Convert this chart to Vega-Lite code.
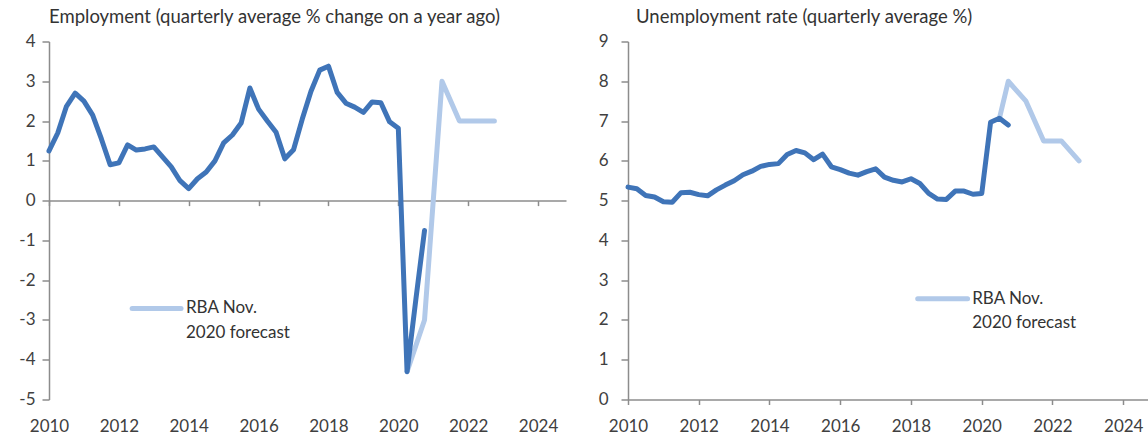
{
  "$schema": "https://vega.github.io/schema/vega-lite/v6.json",
  "background": "white",
  "padding": {"left": 9, "top": 7.5, "right": 0, "bottom": 0},
  "spacing": 22,
  "config": {
    "view": {"stroke": null},
    "font": "Lato",
    "axis": {
      "grid": false,
      "title": null,
      "domainColor": "#8c8c8c",
      "tickColor": "#8c8c8c",
      "domainWidth": 1.5,
      "tickWidth": 1.5,
      "labelFont": "Lato",
      "labelFontSize": 17,
      "labelColor": "#404040",
      "labelOverlap": false,
      "labelFlush": false,
      "tickCount": 30,
      "labelExpr": "datum.value < 0 ? '-' + abs(datum.value) : '' + datum.value"
    },
    "axisY": {"tickSize": 7, "minExtent": 40, "maxExtent": 40, "labelOverlap": false},
    "title": {
      "font": "Lato",
      "fontSize": 18.5,
      "fontWeight": "normal",
      "color": "#333333",
      "anchor": "start",
      "frame": "group",
      "baseline": "alphabetic",
      "offset": 6.5
    },
    "line": {"strokeWidth": 5, "strokeJoin": "round", "strokeCap": "round"}
  },
  "datasets": {
    "employment": [
      {"t": 2010.00, "v": 1.25}, {"t": 2010.25, "v": 1.70}, {"t": 2010.50, "v": 2.37}, {"t": 2010.75, "v": 2.70},
      {"t": 2011.00, "v": 2.50}, {"t": 2011.25, "v": 2.15}, {"t": 2011.50, "v": 1.55}, {"t": 2011.75, "v": 0.90},
      {"t": 2012.00, "v": 0.95}, {"t": 2012.25, "v": 1.40}, {"t": 2012.50, "v": 1.27}, {"t": 2012.75, "v": 1.30},
      {"t": 2013.00, "v": 1.35}, {"t": 2013.25, "v": 1.10}, {"t": 2013.50, "v": 0.85}, {"t": 2013.75, "v": 0.50},
      {"t": 2014.00, "v": 0.30}, {"t": 2014.25, "v": 0.55}, {"t": 2014.50, "v": 0.72}, {"t": 2014.75, "v": 1.00},
      {"t": 2015.00, "v": 1.45}, {"t": 2015.25, "v": 1.65}, {"t": 2015.50, "v": 1.95}, {"t": 2015.75, "v": 2.83},
      {"t": 2016.00, "v": 2.30}, {"t": 2016.25, "v": 2.00}, {"t": 2016.50, "v": 1.72}, {"t": 2016.75, "v": 1.05},
      {"t": 2017.00, "v": 1.28}, {"t": 2017.25, "v": 2.05}, {"t": 2017.50, "v": 2.75}, {"t": 2017.75, "v": 3.28},
      {"t": 2018.00, "v": 3.38}, {"t": 2018.25, "v": 2.72}, {"t": 2018.50, "v": 2.45}, {"t": 2018.75, "v": 2.35},
      {"t": 2019.00, "v": 2.22}, {"t": 2019.25, "v": 2.48}, {"t": 2019.50, "v": 2.46}, {"t": 2019.75, "v": 1.98},
      {"t": 2020.00, "v": 1.82}, {"t": 2020.25, "v": -4.30}, {"t": 2020.50, "v": -2.50}, {"t": 2020.75, "v": -0.75}
    ],
    "employmentForecast": [
      {"t": 2020.25, "v": -4.30}, {"t": 2020.75, "v": -3.00}, {"t": 2021.25, "v": 3.00},
      {"t": 2021.75, "v": 2.00}, {"t": 2022.25, "v": 2.00}, {"t": 2022.75, "v": 2.00}
    ],
    "unemployment": [
      {"t": 2010.00, "v": 5.34}, {"t": 2010.25, "v": 5.30}, {"t": 2010.50, "v": 5.13}, {"t": 2010.75, "v": 5.09},
      {"t": 2011.00, "v": 4.97}, {"t": 2011.25, "v": 4.96}, {"t": 2011.50, "v": 5.20}, {"t": 2011.75, "v": 5.21},
      {"t": 2012.00, "v": 5.15}, {"t": 2012.25, "v": 5.12}, {"t": 2012.50, "v": 5.27}, {"t": 2012.75, "v": 5.39},
      {"t": 2013.00, "v": 5.50}, {"t": 2013.25, "v": 5.65}, {"t": 2013.50, "v": 5.74}, {"t": 2013.75, "v": 5.86},
      {"t": 2014.00, "v": 5.91}, {"t": 2014.25, "v": 5.93}, {"t": 2014.50, "v": 6.16}, {"t": 2014.75, "v": 6.26},
      {"t": 2015.00, "v": 6.20}, {"t": 2015.25, "v": 6.03}, {"t": 2015.50, "v": 6.17}, {"t": 2015.75, "v": 5.85},
      {"t": 2016.00, "v": 5.78}, {"t": 2016.25, "v": 5.69}, {"t": 2016.50, "v": 5.64}, {"t": 2016.75, "v": 5.73},
      {"t": 2017.00, "v": 5.80}, {"t": 2017.25, "v": 5.59}, {"t": 2017.50, "v": 5.51}, {"t": 2017.75, "v": 5.47},
      {"t": 2018.00, "v": 5.55}, {"t": 2018.25, "v": 5.43}, {"t": 2018.50, "v": 5.18}, {"t": 2018.75, "v": 5.04},
      {"t": 2019.00, "v": 5.03}, {"t": 2019.25, "v": 5.24}, {"t": 2019.50, "v": 5.24}, {"t": 2019.75, "v": 5.16},
      {"t": 2020.00, "v": 5.18}, {"t": 2020.25, "v": 6.97}, {"t": 2020.50, "v": 7.07}, {"t": 2020.75, "v": 6.90}
    ],
    "unemploymentForecast": [
      {"t": 2020.50, "v": 7.07}, {"t": 2020.75, "v": 8.00}, {"t": 2021.25, "v": 7.50},
      {"t": 2021.75, "v": 6.50}, {"t": 2022.25, "v": 6.50}, {"t": 2022.75, "v": 6.00}
    ]
  },
  "hconcat": [
    {
      "width": 517,
      "height": 358,
      "title": {"text": "Employment (quarterly average % change on a year ago)"},
      "resolve": {"axis": {"x": "independent"}},
      "layer": [
        {
          "data": {"name": "employmentForecast"},
          "mark": {"type": "line", "color": "#b1c9e9"},
          "encoding": {
            "x": {
              "field": "t", "type": "quantitative",
              "scale": {"domain": [2010, 2024.8], "nice": false, "zero": false},
              "axis": {"values": [2010, 2012, 2014, 2016, 2018, 2020, 2022, 2024], "tickCount": 30, "ticks": false, "tickSize": 0, "domain": false, "labelPadding": 19.3, "orient": "bottom"}
            },
            "y": {
              "field": "v", "type": "quantitative",
              "scale": {"domain": [-5, 4], "nice": false, "zero": false},
              "axis": {"values": [-5, -4, -3, -2, -1, 0, 1, 2, 3, 4], "tickCount": 30, "labelPadding": 7, "labelOverlap": false}
            }
          }
        },
        {
          "data": {"name": "employment"},
          "mark": {"type": "line", "color": "#3f74b8"},
          "encoding": {
            "x": {
              "field": "t", "type": "quantitative",
              "axis": {"values": [2010, 2012, 2014, 2016, 2018, 2020, 2022, 2024], "tickCount": 30, "labels": false, "tickSize": 5, "offset": -198.89, "orient": "bottom"}
            },
            "y": {"field": "v", "type": "quantitative", "axis": {"values": [-5, -4, -3, -2, -1, 0, 1, 2, 3, 4], "tickCount": 30, "labelPadding": 7, "labelOverlap": false}}
          }
        },
        {
          "data": {"values": [{}]},
          "mark": {"type": "rule", "color": "#b1c9e9", "strokeWidth": 5, "strokeCap": "round"},
          "encoding": {
            "x": {"datum": 2012.38, "type": "quantitative", "axis": null},
            "x2": {"datum": 2013.78},
            "y": {"datum": -2.71, "type": "quantitative"}
          }
        },
        {
          "data": {"values": [{}]},
          "mark": {"type": "text", "align": "left", "baseline": "middle", "fontSize": 17, "color": "#333333", "font": "Lato"},
          "encoding": {
            "x": {"datum": 2013.92, "type": "quantitative", "axis": null},
            "y": {"datum": -2.70, "type": "quantitative"},
            "text": {"value": "RBA Nov."}
          }
        },
        {
          "data": {"values": [{}]},
          "mark": {"type": "text", "align": "left", "baseline": "middle", "fontSize": 17, "color": "#333333", "font": "Lato"},
          "encoding": {
            "x": {"datum": 2013.92, "type": "quantitative", "axis": null},
            "y": {"datum": -3.33, "type": "quantitative"},
            "text": {"value": "2020 forecast"}
          }
        }
      ]
    },
    {
      "width": 520,
      "height": 358,
      "title": {"text": "Unemployment rate (quarterly average %)", "dx": 8},
      "layer": [
        {
          "data": {"name": "unemploymentForecast"},
          "mark": {"type": "line", "color": "#b1c9e9"},
          "encoding": {
            "x": {
              "field": "t", "type": "quantitative",
              "scale": {"domain": [2010, 2024.7], "nice": false, "zero": false},
              "axis": {"values": [2010, 2012, 2014, 2016, 2018, 2020, 2022, 2024], "tickCount": 30, "tickSize": 5, "labelPadding": 14.3}
            },
            "y": {
              "field": "v", "type": "quantitative",
              "scale": {"domain": [0, 9], "nice": false},
              "axis": {"values": [0, 1, 2, 3, 4, 5, 6, 7, 8, 9], "tickCount": 30, "labelPadding": 13, "labelOverlap": false}
            }
          }
        },
        {
          "data": {"name": "unemployment"},
          "mark": {"type": "line", "color": "#3f74b8"},
          "encoding": {
            "x": {"field": "t", "type": "quantitative"},
            "y": {"field": "v", "type": "quantitative", "axis": {"values": [0, 1, 2, 3, 4, 5, 6, 7, 8, 9], "tickCount": 30, "labelPadding": 13, "labelOverlap": false}}
          }
        },
        {
          "data": {"values": [{}]},
          "mark": {"type": "rule", "color": "#b1c9e9", "strokeWidth": 5, "strokeCap": "round"},
          "encoding": {
            "x": {"datum": 2018.19, "type": "quantitative"},
            "x2": {"datum": 2019.60},
            "y": {"datum": 2.53, "type": "quantitative"}
          }
        },
        {
          "data": {"values": [{}]},
          "mark": {"type": "text", "align": "left", "baseline": "middle", "fontSize": 17, "color": "#333333", "font": "Lato"},
          "encoding": {
            "x": {"datum": 2019.73, "type": "quantitative"},
            "y": {"datum": 2.53, "type": "quantitative"},
            "text": {"value": "RBA Nov."}
          }
        },
        {
          "data": {"values": [{}]},
          "mark": {"type": "text", "align": "left", "baseline": "middle", "fontSize": 17, "color": "#333333", "font": "Lato"},
          "encoding": {
            "x": {"datum": 2019.73, "type": "quantitative"},
            "y": {"datum": 1.92, "type": "quantitative"},
            "text": {"value": "2020 forecast"}
          }
        }
      ]
    }
  ]
}
